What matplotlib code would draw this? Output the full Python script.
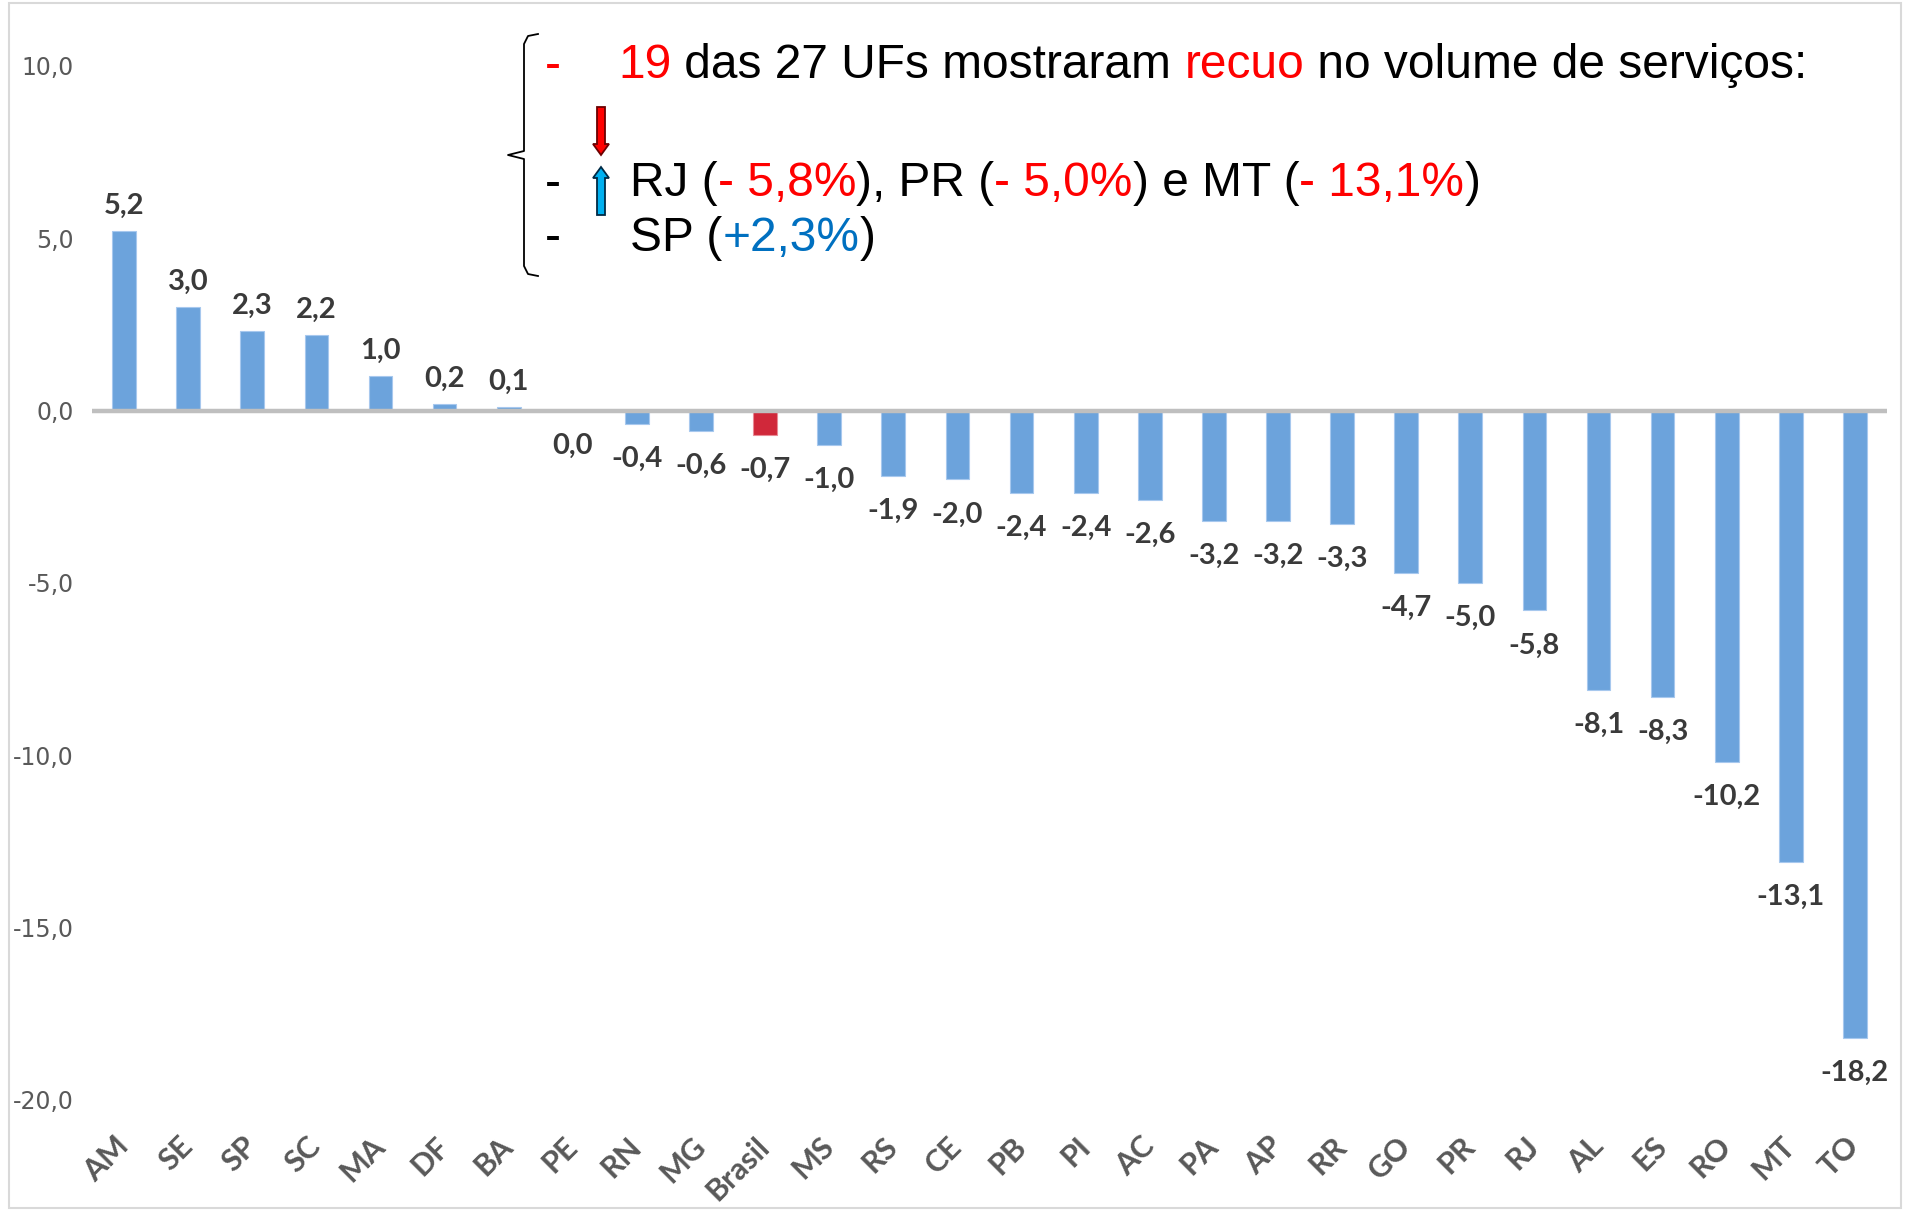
import matplotlib.pyplot as plt
from matplotlib.patches import Rectangle, FancyArrow

W, H = 1912, 1212
DPI = 100

ufs = ["AM", "SE", "SP", "SC", "MA", "DF", "BA", "PE", "RN", "MG", "Brasil",
       "MS", "RS", "CE", "PB", "PI", "AC", "PA", "AP", "RR", "GO", "PR", "RJ",
       "AL", "ES", "RO", "MT", "TO"]
variacao = [5.2, 3.0, 2.3, 2.2, 1.0, 0.2, 0.1, 0.0, -0.4, -0.6, -0.7,
            -1.0, -1.9, -2.0, -2.4, -2.4, -2.6, -3.2, -3.2, -3.3, -4.7, -5.0, -5.8,
            -8.1, -8.3, -10.2, -13.1, -18.2]
yticks = [10, 5, 0, -5, -10, -15, -20]

BLUE = "#6CA3DC"
RED = "#D0283A"
LABEL_GRAY = "#3a3a3a"
AXIS_GRAY = "#595959"

narrow = ["Liberation Sans Narrow", "DejaVu Sans"]
bold_lbl = ["Lato", "DejaVu Sans"]
arial = ["Liberation Sans", "DejaVu Sans"]

fig = plt.figure(figsize=(W / DPI, H / DPI), dpi=DPI)


def px(x, y):
    # pixel position from the top-left corner -> figure fraction
    return x / W, 1 - y / H


# outer frame
fig.patches.append(Rectangle(px(9, 1208), (1901 - 9) / W, (1208 - 3) / H,
                             transform=fig.transFigure, fill=False,
                             edgecolor="#d9d9d9", lw=1.5))

ax = fig.add_axes([92 / W, 1 - 1100 / H, (1887 - 92) / W, (1100 - 65.8) / H])
x = list(range(len(ufs)))
colors = [RED if u == "Brasil" else BLUE for u in ufs]
edges = ["#e88a95" if u == "Brasil" else "#a7c8ee" for u in ufs]
ax.bar(x, variacao, width=0.37, color=colors, edgecolor=edges,
       linewidth=0.8, zorder=2)
ax.axhline(0, color="#bfbfbf", lw=3.2, zorder=3)

ax.set_xlim(-0.5, len(ufs) - 0.5)
ax.set_ylim(-20, 10)
for s in ax.spines.values():
    s.set_visible(False)
ax.set_yticks(yticks)
ax.set_yticklabels([f"{v:.1f}".replace(".", ",") for v in yticks],
                   family=narrow, fontsize=17, color=AXIS_GRAY)
ax.tick_params(axis="y", length=0, pad=13)
ax.set_xticks(x)
ax.set_xticklabels(ufs, rotation=45, ha="right", va="center",
                   rotation_mode="anchor", family=bold_lbl, fontweight="bold",
                   fontsize=22, color=AXIS_GRAY)
ax.tick_params(axis="x", length=0, pad=30)

for xi, v in zip(x, variacao):
    txt = f"{v:.1f}".replace(".", ",")
    if v > 0:
        ax.annotate(txt, (xi, v), xytext=(0, 12), textcoords="offset pixels",
                    ha="center", va="bottom", family=bold_lbl, fontweight="bold",
                    fontsize=21, color=LABEL_GRAY)
    else:
        ax.annotate(txt, (xi, v), xytext=(0, -22), textcoords="offset pixels",
                    ha="center", va="top", family=bold_lbl, fontweight="bold",
                    fontsize=21, color=LABEL_GRAY)

# bullet notes at the top
renderer = fig.canvas.get_renderer()
FS = 34.5


def seg_width(s):
    # width in pixels, padded so leading/trailing spaces count
    a = fig.text(0, 0, "x" + s + "x", family=arial, fontsize=FS)
    b = fig.text(0, 0, "xx", family=arial, fontsize=FS)
    w = a.get_window_extent(renderer).width - b.get_window_extent(renderer).width
    a.remove()
    b.remove()
    return w


def write_line(x0, yc, parts):
    xp = x0
    for s, c in parts:
        fig.text(*px(xp, yc), s, family=arial, fontsize=FS, color=c,
                 ha="left", va="center_baseline")
        xp += seg_width(s)


write_line(545, 61, [("-", "#FF0000")])
write_line(545, 179, [("-", "black")])
write_line(545, 234, [("-", "black")])
write_line(618, 61, [("19", "#FF0000"), (" das 27 UFs mostraram ", "black"),
                     ("recuo", "#FF0000"), (" no volume de serviços:", "black")])
write_line(630, 179, [("RJ (", "black"), ("- 5,8%", "#FF0000"),
                      ("), PR (", "black"), ("- 5,0%", "#FF0000"),
                      (") e MT (", "black"), ("- 13,1%", "#FF0000"),
                      (")", "black")])
write_line(630, 234, [("SP (", "black"), ("+2,3%", "#0070C0"), (")", "black")])

# brace on the left of the notes
bx, top, bot, mid = 524, 34, 276, 155
bxs = [bx + 14, bx + 4, bx, bx, bx - 16, bx, bx, bx + 4, bx + 14]
bys = [top, top + 2, top + 10, mid - 4, mid, mid + 4, bot - 10, bot - 2, bot]
fig.lines.append(plt.Line2D([v / W for v in bxs], [1 - v / H for v in bys],
                            transform=fig.transFigure, color="black", lw=1.3))

# arrows
ax_x = 601 / W
fig.patches.append(FancyArrow(ax_x, 1 - 107 / H, 0, -(155 - 107) / H,
                              width=8 / W, head_width=16 / W, head_length=11 / H,
                              length_includes_head=True, transform=fig.transFigure,
                              facecolor="#FF0000", edgecolor="#6b0000", lw=1.3))
fig.patches.append(FancyArrow(ax_x, 1 - 215 / H, 0, (215 - 167) / H,
                              width=8 / W, head_width=16 / W, head_length=11 / H,
                              length_includes_head=True, transform=fig.transFigure,
                              facecolor="#00B0F0", edgecolor="#002a45", lw=1.3))

fig.savefig("out.png", dpi=DPI)
